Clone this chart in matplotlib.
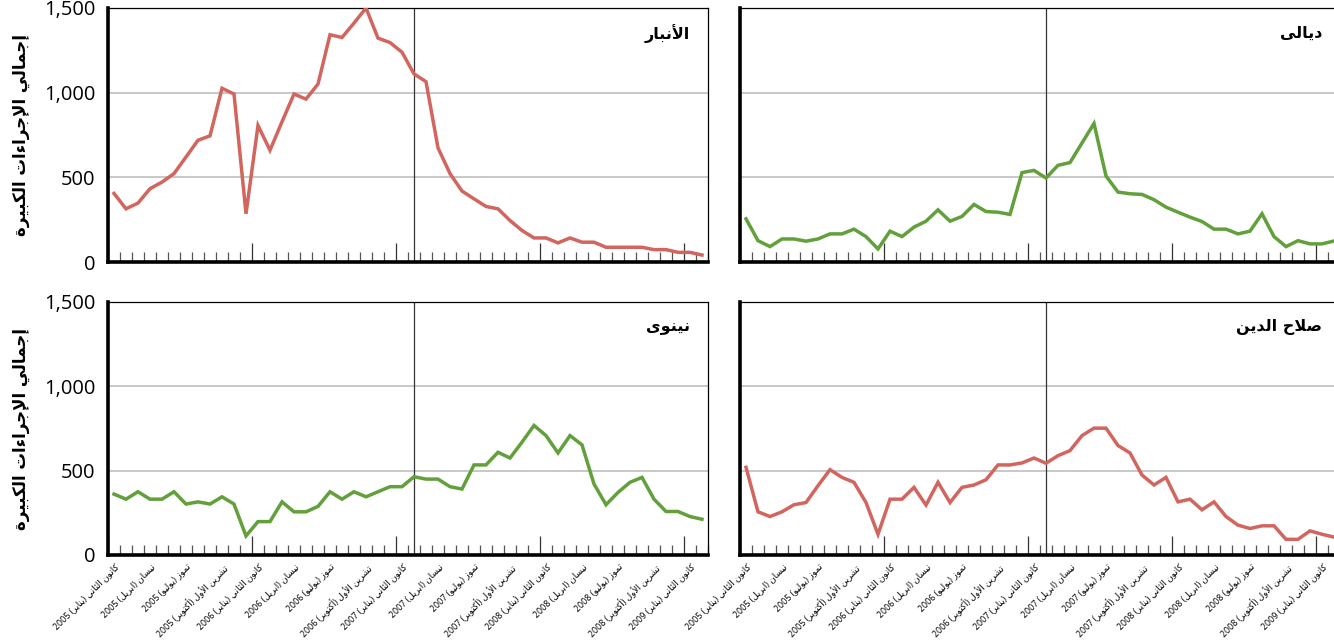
import re
import numpy as np
import matplotlib
matplotlib.use("Agg")
import matplotlib.pyplot as plt
from matplotlib.ticker import FixedLocator, NullFormatter


# --- data: monthly major operations, Jan 2005 .. Feb 2009 ---
years = [2005, 2006, 2007, 2008, 2009]
month_names = ["كانون الثاني (يناير)", "نيسان (ابريل)", "تموز (يوليو)", "تشرين الأول (أكتوبر)"]

anbar = [405, 314, 348, 433, 472, 522, 620, 719, 745, 1026, 992, 285,
         806, 660, 828, 992, 962, 1051, 1342, 1326, 1411, 1500, 1322, 1296,
         1239, 1111, 1065, 674, 522, 419, 373, 328, 314, 245, 186, 142,
         142, 113, 142, 117, 117, 87, 87, 87, 87, 73, 73, 57, 57, 41]
diyala = [255, 126, 91, 136, 136, 123, 136, 166, 166, 194, 150, 77,
          182, 150, 206, 241, 308, 241, 269, 340, 298, 294, 281, 528,
          541, 496, 571, 587, 703, 818, 508, 413, 403, 399, 368, 324,
          294, 265, 239, 194, 194, 166, 182, 285, 150, 91, 126, 107, 107, 124]
ninawa = [361, 331, 375, 331, 331, 375, 302, 315, 302, 345, 302, 113,
          198, 198, 315, 256, 256, 288, 375, 331, 375, 345, 375, 405,
          405, 464, 450, 450, 405, 391, 534, 534, 609, 575, 669, 768,
          708, 605, 708, 653, 421, 298, 371, 431, 460, 331, 258, 258, 228, 212]
salahuddin = [520, 256, 228, 256, 298, 311, 411, 506, 460, 431, 311, 123,
              331, 331, 401, 296, 431, 311, 401, 415, 446, 534, 534, 546,
              575, 544, 589, 619, 708, 752, 752, 649, 605, 474, 415, 460,
              315, 331, 268, 315, 228, 177, 157, 173, 173, 93, 93, 143, 123, 106]

titles = ["الأنبار", "ديالى", "نينوى", "صلاح الدين"]
ylabel = "إجمالي الإجراءات الكبيرة"
surge_month = 25  # Feb 2007

RED = "#d2665f"
GREEN = "#62a03c"


# --- minimal arabic shaping (matplotlib has no complex text layout) ---
FORMS = {
    0x621: (0xFE80, 1), 0x622: (0xFE81, 2), 0x623: (0xFE83, 2), 0x624: (0xFE85, 2),
    0x625: (0xFE87, 2), 0x626: (0xFE89, 4), 0x627: (0xFE8D, 2), 0x628: (0xFE8F, 4),
    0x629: (0xFE93, 2), 0x62A: (0xFE95, 4), 0x62B: (0xFE99, 4), 0x62C: (0xFE9D, 4),
    0x62D: (0xFEA1, 4), 0x62E: (0xFEA5, 4), 0x62F: (0xFEA9, 2), 0x630: (0xFEAB, 2),
    0x631: (0xFEAD, 2), 0x632: (0xFEAF, 2), 0x633: (0xFEB1, 4), 0x634: (0xFEB5, 4),
    0x635: (0xFEB9, 4), 0x636: (0xFEBD, 4), 0x637: (0xFEC1, 4), 0x638: (0xFEC5, 4),
    0x639: (0xFEC9, 4), 0x63A: (0xFECD, 4), 0x641: (0xFED1, 4), 0x642: (0xFED5, 4),
    0x643: (0xFED9, 4), 0x644: (0xFEDD, 4), 0x645: (0xFEE1, 4), 0x646: (0xFEE5, 4),
    0x647: (0xFEE9, 4), 0x648: (0xFEED, 2), 0x649: (0xFEEF, 2), 0x64A: (0xFEF1, 4),
}
LAMALEF = {0x622: 0xFEF5, 0x623: 0xFEF7, 0x625: 0xFEF9, 0x627: 0xFEFB}


def shape(s):
    items = []
    i = 0
    while i < len(s):
        c = ord(s[i])
        if c == 0x644 and i + 1 < len(s) and ord(s[i + 1]) in LAMALEF:
            items.append(("la", LAMALEF[ord(s[i + 1])]))
            i += 2
        else:
            items.append(("ch", c))
            i += 1

    def joining(it):
        if it[0] == "la":
            return 2
        return FORMS.get(it[1], (0, 0))[1]

    out = []
    for k, it in enumerate(items):
        n = joining(it)
        prev = k > 0 and joining(items[k - 1]) == 4 and n >= 2
        nxt = n == 4 and k + 1 < len(items) and joining(items[k + 1]) >= 2
        if it[0] == "la":
            out.append(chr(it[1] + (1 if prev else 0)))
        elif n == 0:
            out.append(chr(it[1]))
        else:
            base = FORMS[it[1]][0]
            if prev and nxt:
                off = 3
            elif prev:
                off = 1
            elif nxt:
                off = 2
            else:
                off = 0
            out.append(chr(base + off))
    return "".join(out)


def ar(s):
    rev = shape(s)[::-1]
    rev = re.sub(r"[0-9]+", lambda m: m.group(0)[::-1], rev)
    return rev.translate({ord("("): ")", ord(")"): "("})


# --- layout ---
n = len(anbar)
x = np.arange(n)
labels = [ar(month_names[m // 3] + " " + str(y)) for y in years for m in (0, 3, 6, 9)]
label_pos = np.arange(0, n, 3)
labels = labels[:len(label_pos)]

plt.rcParams["font.family"] = ["Open Sans", "DejaVu Sans"]

W, H = 1334, 643
fig = plt.figure(figsize=(W / 100, H / 100), dpi=100)

boxes = [(108, 8, 262), (740, 8, 262), (108, 302, 555), (740, 302, 555)]
series = [(anbar, RED), (diyala, GREEN), (ninawa, GREEN), (salahuddin, RED)]

for k, ((left, top, bottom), (vals, col)) in enumerate(zip(boxes, series)):
    ax = fig.add_axes([left / W, 1 - bottom / H, 600 / W, (bottom - top) / H])
    ax.set_xlim(-0.5, n - 0.5)
    ax.set_ylim(0, 1500)
    ax.yaxis.grid(True, color="#c4c4c4", linewidth=1.3)
    ax.set_axisbelow(True)
    ax.axvline(surge_month, color="#333333", linewidth=0.9, zorder=2)
    ax.plot(x, vals, color=col, linewidth=2.5, zorder=3, solid_joinstyle="miter")

    for side in ("left", "bottom"):
        ax.spines[side].set_linewidth(2.6)
        ax.spines[side].set_color("black")
    for side in ("top", "right"):
        ax.spines[side].set_linewidth(0.9)
        ax.spines[side].set_color("black")

    # month boundary ticks, taller at each january
    jan_bounds = [b for b in np.arange(-0.5, n, 1.0) if int(b + 0.5) % 12 == 0]
    other_bounds = [b for b in np.arange(-0.5, n, 1.0) if int(b + 0.5) % 12 != 0]
    ax.xaxis.set_major_locator(FixedLocator(jan_bounds))
    ax.xaxis.set_minor_locator(FixedLocator(other_bounds))
    ax.xaxis.set_major_formatter(NullFormatter())
    ax.tick_params(axis="x", which="major", direction="in", length=14, width=0.9, color="#333333")
    ax.tick_params(axis="x", which="minor", direction="in", length=7, width=0.9, color="#555555")

    ax.set_yticks([0, 500, 1000, 1500])
    if k % 2 == 0:
        ax.set_yticklabels(["0", "500", "1,000", "1,500"])
        ax.tick_params(axis="y", length=0, pad=9, labelsize=14.5)
        ax.set_ylabel(ar(ylabel), fontsize=12, fontweight="bold",
                      family="DejaVu Sans", labelpad=10)
    else:
        ax.set_yticklabels([])
        ax.tick_params(axis="y", length=0)

    ax.text(0.97, 0.90, ar(titles[k]), transform=ax.transAxes, ha="right", va="center",
            fontsize=11.5, fontweight="bold", family="DejaVu Sans")

    if k >= 2:
        sec = ax.secondary_xaxis("bottom")
        sec.set_xticks(label_pos)
        sec.set_xticklabels(labels, rotation=45, ha="right", rotation_mode="anchor",
                            fontsize=6.4)
        sec.tick_params(length=0, pad=5)
        sec.spines["bottom"].set_visible(False)

fig.savefig("out.png", dpi=100)
